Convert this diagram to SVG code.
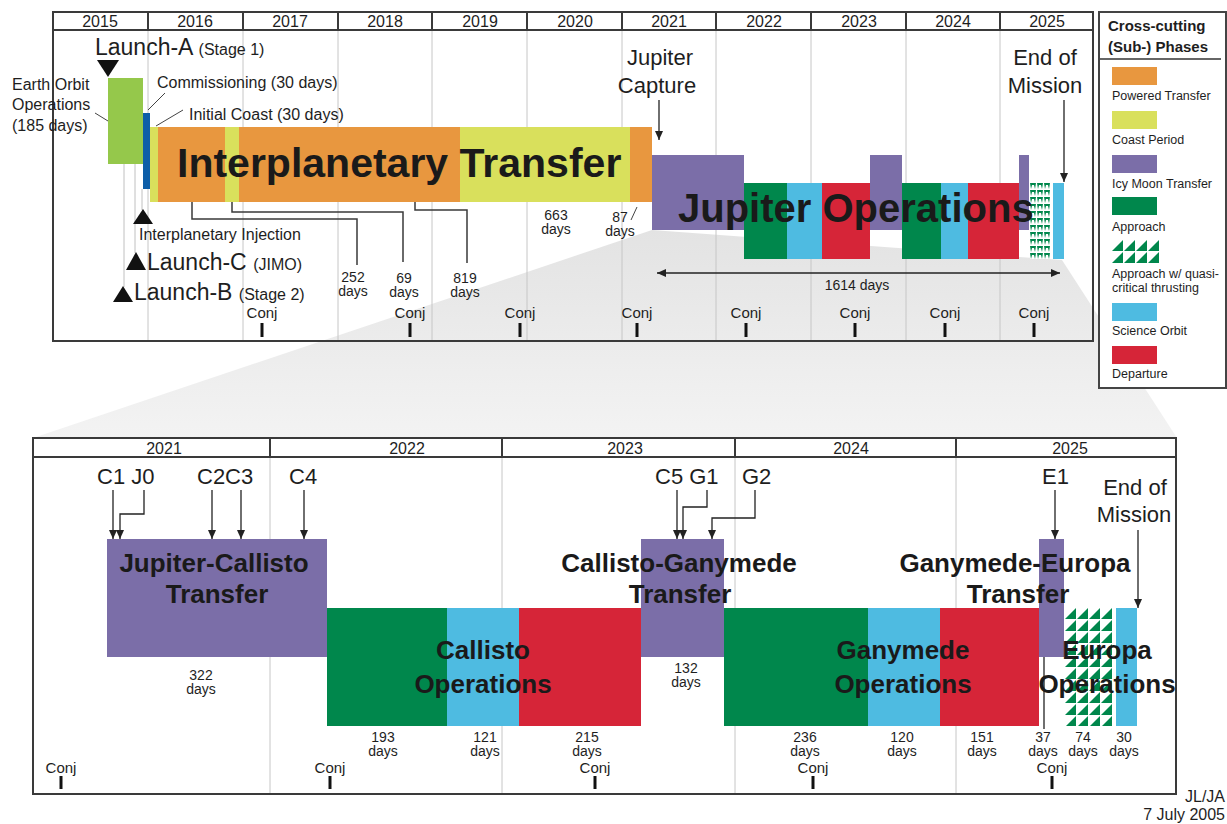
<svg xmlns="http://www.w3.org/2000/svg" width="1227" height="824" viewBox="0 0 1227 824">
<defs>
<style>
text{font-family:"Liberation Sans",Arial,sans-serif;fill:#1e1e1e}
.yr{font-size:16px;text-anchor:middle}
.big{font-weight:bold;fill:#1a1a1a}
.b26{font-size:26px;text-anchor:middle}
.lbl{font-size:16px}
.ev{font-size:23px}
.ev22{font-size:22px}
.days{font-size:14px;text-anchor:middle}
.conj{font-size:15px;text-anchor:middle}
.leg{font-size:12.5px}
.tick{stroke:#111;stroke-width:3}
.grid{stroke:#c6c6c6;stroke-width:1}
.frame{fill:none;stroke:#3a3a3a;stroke-width:2}
.lead{stroke:#3a3a3a;stroke-width:1.5;fill:none}
.thin{stroke:#444;stroke-width:1;fill:none}
.pale{stroke:#c0c0c0;stroke-width:1;fill:none}
.arr{stroke:#222;stroke-width:1.3;fill:none;marker-end:url(#ah)}
.orange{fill:#e8973f}.coast{fill:#d9e05c}.purple{fill:#7b6ea8}.green{fill:#00874c}.sci{fill:#4ebbe1}.red{fill:#d62538}
</style>
<marker id="ah" markerUnits="userSpaceOnUse" markerWidth="9" markerHeight="8" refX="9" refY="4" orient="auto-start-reverse">
<path d="M0,0 L9,4 L0,8 z" fill="#222"/>
</marker>
<pattern id="hatchB" patternUnits="userSpaceOnUse" x="1065" y="608" width="12" height="12">
<rect width="12" height="12" fill="#fff"/>
<polygon points="11,0 11,11 0,11" fill="#00874c"/>
</pattern>
<pattern id="hatchL" patternUnits="userSpaceOnUse" x="1112" y="240" width="12" height="12">
<rect width="12" height="12" fill="#fff"/>
<polygon points="11,0 11,11 0,11" fill="#00874c"/>
</pattern>
<pattern id="hatchT" patternUnits="userSpaceOnUse" x="1030" y="183" width="7" height="7">
<rect width="7" height="7" fill="#fff"/>
<polygon points="0,0 6,0 5,6 4,2 2,2 1,6" fill="#00874c"/>
</pattern>
<linearGradient id="wedge" x1="0" y1="230" x2="0" y2="438" gradientUnits="userSpaceOnUse">
<stop offset="0" stop-color="#e3e3e3"/>
<stop offset="1" stop-color="#f3f3f3"/>
</linearGradient>
</defs>
<rect width="1227" height="824" fill="#fff"/>

<!-- top panel background -->
<rect x="53" y="12" width="1040" height="329" fill="#fff"/>
<!-- zoom wedge -->
<polygon id="zoom-wedge" points="652,230 1062,260 1177,438 33,438" fill="url(#wedge)"/>

<g id="top-grid">
<g class="grid">
<line x1="148" y1="30" x2="148" y2="341"/><line x1="243" y1="30" x2="243" y2="341"/>
<line x1="338" y1="30" x2="338" y2="341"/><line x1="432" y1="30" x2="432" y2="341"/>
<line x1="527" y1="30" x2="527" y2="341"/><line x1="622" y1="30" x2="622" y2="341"/>
<line x1="716" y1="30" x2="716" y2="341"/><line x1="811" y1="30" x2="811" y2="341"/>
<line x1="906" y1="30" x2="906" y2="341"/><line x1="1000" y1="30" x2="1000" y2="341"/>
</g>
<rect x="53" y="12" width="1040" height="329" class="frame"/>
<line x1="53" y1="30" x2="1093" y2="30" stroke="#3a3a3a" stroke-width="2"/>
<g stroke="#3a3a3a" stroke-width="2">
<line x1="148" y1="12" x2="148" y2="30"/><line x1="243" y1="12" x2="243" y2="30"/>
<line x1="338" y1="12" x2="338" y2="30"/><line x1="432" y1="12" x2="432" y2="30"/>
<line x1="527" y1="12" x2="527" y2="30"/><line x1="622" y1="12" x2="622" y2="30"/>
<line x1="716" y1="12" x2="716" y2="30"/><line x1="811" y1="12" x2="811" y2="30"/>
<line x1="906" y1="12" x2="906" y2="30"/><line x1="1000" y1="12" x2="1000" y2="30"/>
</g>
<g class="yr">
<text x="100" y="27">2015</text><text x="195" y="27">2016</text><text x="290" y="27">2017</text>
<text x="385" y="27">2018</text><text x="480" y="27">2019</text><text x="575" y="27">2020</text>
<text x="669" y="27">2021</text><text x="764" y="27">2022</text><text x="859" y="27">2023</text>
<text x="953" y="27">2024</text><text x="1047" y="27">2025</text>
</g>
</g>

<!-- top connectors -->
<g id="top-connectors">
<line class="pale" x1="124" y1="164" x2="124" y2="287"/>
<line class="pale" x1="135" y1="164" x2="135" y2="253"/>
<line class="pale" x1="142" y1="189" x2="142" y2="210"/>
<polyline class="thin" points="95,113 108,121"/>
<polyline class="thin" points="148,110 165,93"/>
<polyline class="thin" points="156,126 183,110"/>
<polyline class="lead" points="192,202 192,219 357,219 357,265"/>
<polyline class="lead" points="232,202 232,212 403,212 403,262"/>
<polyline class="lead" points="415,202 415,210 467,210 467,263"/>
<line class="thin" x1="631" y1="220" x2="637" y2="207"/>
<line class="arr" x1="659" y1="100" x2="659" y2="140"/>
<line class="arr" x1="1064" y1="100" x2="1064" y2="182"/>
<line class="arr" x1="657" y1="273" x2="1060" y2="273" marker-start="url(#ah)"/>
</g>

<!-- top phases -->
<g id="earth-orbit"><rect x="108" y="78" width="35" height="86" fill="#95c84b"/>
<text class="lbl" x="12" y="90">Earth Orbit</text><text class="lbl" x="12" y="110">Operations</text><text class="lbl" x="12" y="131">(185 days)</text></g>
<g id="commissioning"><rect x="143" y="113" width="7" height="76" fill="#0d5ea8"/>
<text class="lbl" x="157" y="88">Commissioning (30 days)</text></g>
<g id="initial-coast"><rect x="150" y="127" width="8" height="75" class="coast"/>
<text class="lbl" x="189" y="120">Initial Coast (30 days)</text></g>
<g id="interplanetary-transfer">
<rect x="158" y="127" width="67" height="75" class="orange"/>
<rect x="225" y="127" width="14" height="75" class="coast"/>
<rect x="239" y="127" width="221" height="75" class="orange"/>
<rect x="460" y="127" width="170" height="75" class="coast"/>
<rect x="630" y="127" width="22" height="75" class="orange"/>
<text class="big" x="177" y="177" font-size="41">Interplanetary Transfer</text>
</g>
<g id="jupiter-operations">
<rect x="652" y="155" width="92" height="75" class="purple"/>
<rect x="744" y="183" width="43" height="76" class="green"/>
<rect x="787" y="183" width="35" height="76" class="sci"/>
<rect x="822" y="183" width="48" height="76" class="red"/>
<rect x="870" y="155" width="32" height="75" class="purple"/>
<rect x="902" y="183" width="39" height="76" class="green"/>
<rect x="941" y="183" width="27" height="76" class="sci"/>
<rect x="968" y="183" width="51" height="76" class="red"/>
<rect x="1019" y="155" width="10" height="75" class="purple"/>
<rect x="1030" y="183" width="21" height="76" fill="url(#hatchT)"/>
<rect x="1053" y="183" width="11" height="76" class="sci"/>
<text class="big" x="678" y="222" font-size="40">Jupiter Operations</text>
</g>
<g id="launch-a"><polygon points="97,60 119,60 108,77" fill="#111"/>
<text x="95" y="55" font-size="23">Launch-A <tspan font-size="16">(Stage 1)</tspan></text></g>
<g id="interplanetary-injection"><polygon points="133,224 153,224 143,209" fill="#111"/>
<text class="lbl" x="139" y="240">Interplanetary Injection</text></g>
<g id="launch-c"><polygon points="126,270 146,270 136,252" fill="#111"/>
<text x="147" y="270" font-size="23">Launch-C <tspan font-size="16">(JIMO)</tspan></text></g>
<g id="launch-b"><polygon points="113,302 133,302 123,286" fill="#111"/>
<text x="134" y="300" font-size="23">Launch-B <tspan font-size="16">(Stage 2)</tspan></text></g>
<g id="jupiter-capture"><text x="660" y="65" font-size="22" text-anchor="middle">Jupiter</text><text x="657" y="93" font-size="22" text-anchor="middle">Capture</text></g>
<g id="end-of-mission-top"><text x="1045" y="65" font-size="22" text-anchor="middle">End of</text><text x="1045" y="93" font-size="22" text-anchor="middle">Mission</text></g>
<g id="top-days" class="days">
<text x="353" y="282">252</text><text x="353" y="296">days</text>
<text x="404" y="283">69</text><text x="404" y="297">days</text>
<text x="465" y="283">819</text><text x="465" y="297">days</text>
<text x="556" y="220">663</text><text x="556" y="234">days</text>
<text x="620" y="222">87</text><text x="620" y="236">days</text>
<text x="857" y="290">1614 days</text>
</g>
<g id="top-conj">
<g class="conj">
<text x="262" y="318">Conj</text><text x="410" y="318">Conj</text><text x="520" y="318">Conj</text><text x="637" y="318">Conj</text>
<text x="746" y="318">Conj</text><text x="855" y="318">Conj</text><text x="945" y="318">Conj</text><text x="1034" y="318">Conj</text>
</g>
<g class="tick">
<line x1="262" y1="323" x2="262" y2="337"/><line x1="410" y1="323" x2="410" y2="337"/><line x1="520" y1="323" x2="520" y2="337"/><line x1="637" y1="323" x2="637" y2="337"/>
<line x1="746" y1="323" x2="746" y2="337"/><line x1="855" y1="323" x2="855" y2="337"/><line x1="945" y1="323" x2="945" y2="337"/><line x1="1034" y1="323" x2="1034" y2="337"/>
</g>
</g>

<!-- legend -->
<g id="legend">
<rect x="1099" y="12" width="127" height="376" fill="#fff" stroke="#444" stroke-width="2"/>
<text x="1108" y="31" font-size="15" font-weight="bold">Cross-cutting</text>
<text x="1108" y="52" font-size="15" font-weight="bold">(Sub-) Phases</text>
<line x1="1100" y1="59" x2="1221" y2="59" stroke="#666" stroke-width="2"/>
<rect x="1112" y="67" width="45" height="18" class="orange"/><text class="leg" x="1112" y="100">Powered Transfer</text>
<rect x="1112" y="111" width="45" height="18" class="coast"/><text class="leg" x="1112" y="144">Coast Period</text>
<rect x="1112" y="155" width="45" height="18" class="purple"/><text class="leg" x="1112" y="188">Icy Moon Transfer</text>
<rect x="1112" y="197" width="45" height="18" class="green"/><text class="leg" x="1112" y="231">Approach</text>
<rect x="1112" y="240" width="48" height="24" fill="url(#hatchL)"/><text class="leg" x="1112" y="278">Approach w/ quasi-</text><text class="leg" x="1112" y="292">critical thrusting</text>
<rect x="1112" y="303" width="45" height="18" class="sci"/><text class="leg" x="1112" y="335">Science Orbit</text>
<rect x="1112" y="346" width="45" height="18" class="red"/><text class="leg" x="1112" y="378">Departure</text>
</g>

<!-- bottom panel -->
<g id="bottom-frame">
<rect x="33" y="438" width="1143" height="356" fill="#fff"/>
<g class="grid">
<line x1="270" y1="457" x2="270" y2="794"/><line x1="502" y1="457" x2="502" y2="794"/>
<line x1="735" y1="457" x2="735" y2="794"/><line x1="956" y1="457" x2="956" y2="794"/>
</g>
<rect x="33" y="438" width="1143" height="356" class="frame"/>
<line x1="33" y1="457" x2="1176" y2="457" stroke="#3a3a3a" stroke-width="2"/>
<g stroke="#3a3a3a" stroke-width="2">
<line x1="270" y1="438" x2="270" y2="457"/><line x1="502" y1="438" x2="502" y2="457"/>
<line x1="735" y1="438" x2="735" y2="457"/><line x1="956" y1="438" x2="956" y2="457"/>
</g>
<g class="yr">
<text x="164" y="454">2021</text><text x="407" y="454">2022</text><text x="625" y="454">2023</text>
<text x="851" y="454">2024</text><text x="1070" y="454">2025</text>
</g>
</g>

<g id="bottom-connectors">
<line class="arr" x1="113" y1="490" x2="113" y2="539"/>
<polyline class="arr" points="144,490 144,514 120,514 120,539"/>
<line class="arr" x1="212" y1="490" x2="212" y2="539"/>
<line class="arr" x1="241" y1="490" x2="241" y2="539"/>
<line class="arr" x1="304" y1="490" x2="304" y2="539"/>
<line class="arr" x1="677" y1="490" x2="677" y2="539"/>
<polyline class="arr" points="707,490 707,507 683,507 683,539"/>
<polyline class="arr" points="755,490 755,518 712,518 712,539"/>
<line class="arr" x1="1055" y1="490" x2="1055" y2="539"/>
<line class="arr" x1="1138" y1="530" x2="1138" y2="608"/>
<line x1="1044" y1="657" x2="1044" y2="729" stroke="#222" stroke-width="1.3"/>
</g>

<g id="jupiter-callisto-transfer">
<rect x="107" y="539" width="220" height="118" class="purple"/>
<text class="big b26" x="214" y="572">Jupiter-Callisto</text><text class="big b26" x="217" y="603">Transfer</text>
</g>
<g id="callisto-operations">
<rect x="327" y="608" width="120" height="118" class="green"/>
<rect x="447" y="608" width="72" height="118" class="sci"/>
<rect x="519" y="608" width="122" height="118" class="red"/>
<text class="big b26" x="483" y="659">Callisto</text><text class="big b26" x="483" y="693">Operations</text>
</g>
<g id="callisto-ganymede-transfer">
<rect x="641" y="539" width="83" height="118" class="purple"/>
<text class="big b26" x="679" y="572">Callisto-Ganymede</text><text class="big b26" x="680" y="603">Transfer</text>
</g>
<g id="ganymede-operations">
<rect x="724" y="608" width="144" height="118" class="green"/>
<rect x="868" y="608" width="72" height="118" class="sci"/>
<rect x="940" y="608" width="99" height="118" class="red"/>
<text class="big b26" x="903" y="659">Ganymede</text><text class="big b26" x="903" y="693">Operations</text>
</g>
<g id="ganymede-europa-transfer">
<rect x="1039" y="539" width="25" height="118" class="purple"/>
<text class="big b26" x="1015" y="572">Ganymede-Europa</text><text class="big b26" x="1018" y="603">Transfer</text>
</g>
<g id="europa-operations">
<rect x="1065" y="608" width="48" height="118" fill="url(#hatchB)"/>
<rect x="1116" y="608" width="21" height="118" class="sci"/>
<text class="big b26" x="1107" y="659">Europa</text><text class="big b26" x="1107" y="693">Operations</text>
</g>

<g id="bottom-events">
<text class="ev22" x="97" y="484">C1 J0</text>
<text class="ev22" x="197" y="484">C2C3</text>
<text class="ev22" x="289" y="484">C4</text>
<text class="ev22" x="655" y="484">C5 G1</text>
<text class="ev22" x="742" y="484">G2</text>
<text class="ev22" x="1042" y="484">E1</text>
<text class="ev22" x="1135" y="495" text-anchor="middle">End of</text>
<text class="ev22" x="1134" y="522" text-anchor="middle">Mission</text>
</g>

<g id="bottom-days" class="days">
<text x="201" y="680">322</text><text x="201" y="694">days</text>
<text x="383" y="742">193</text><text x="383" y="756">days</text>
<text x="485" y="742">121</text><text x="485" y="756">days</text>
<text x="587" y="742">215</text><text x="587" y="756">days</text>
<text x="686" y="673">132</text><text x="686" y="687">days</text>
<text x="805" y="742">236</text><text x="805" y="756">days</text>
<text x="902" y="742">120</text><text x="902" y="756">days</text>
<text x="982" y="742">151</text><text x="982" y="756">days</text>
<text x="1043" y="742">37</text><text x="1043" y="756">days</text>
<text x="1083" y="742">74</text><text x="1083" y="756">days</text>
<text x="1124" y="742">30</text><text x="1124" y="756">days</text>
</g>

<g id="bottom-conj">
<g class="conj">
<text x="61" y="773">Conj</text><text x="330" y="773">Conj</text><text x="595" y="773">Conj</text><text x="813" y="773">Conj</text><text x="1052" y="773">Conj</text>
</g>
<g class="tick">
<line x1="61" y1="776" x2="61" y2="789"/><line x1="330" y1="776" x2="330" y2="789"/><line x1="595" y1="776" x2="595" y2="789"/><line x1="813" y1="776" x2="813" y2="789"/><line x1="1052" y1="776" x2="1052" y2="789"/>
</g>
</g>

<g id="footer">
<text x="1225" y="802" font-size="16" text-anchor="end">JL/JA</text>
<text x="1225" y="820" font-size="16" text-anchor="end">7 July 2005</text>
</g>
</svg>
